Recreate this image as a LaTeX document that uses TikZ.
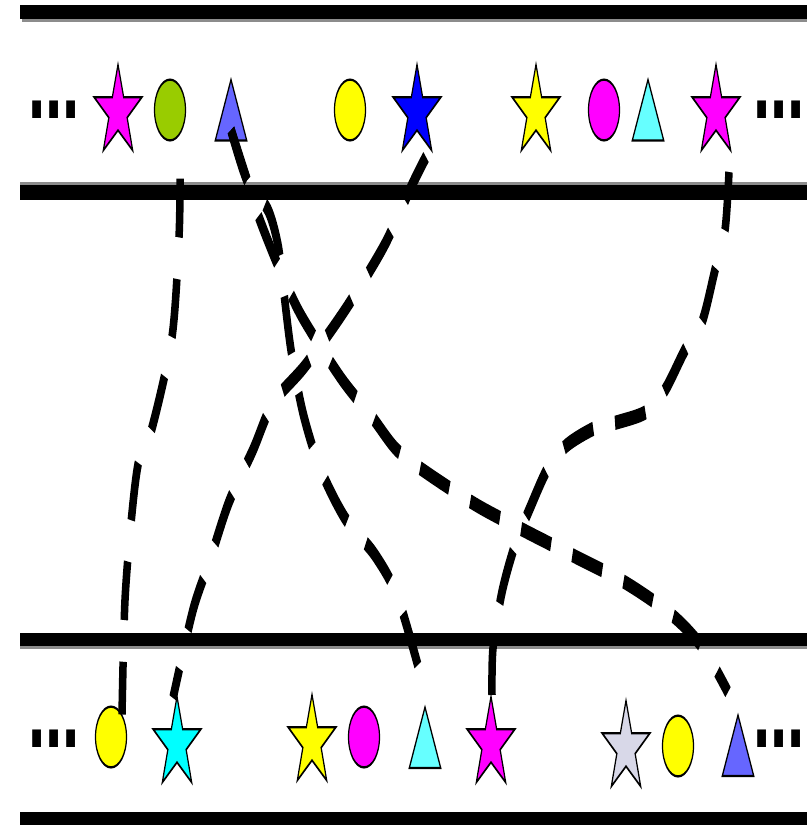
\documentclass[tikz,border=0pt]{standalone}
\usepackage{fontspec}
\newfontfamily\dotfont{Liberation Sans}
\usetikzlibrary{shapes.geometric,calc}
\definecolor{cMag}{HTML}{FF00FF}
\definecolor{cLime}{HTML}{99CC00}
\definecolor{cPeri}{HTML}{6666FF}
\definecolor{cYel}{HTML}{FFFF00}
\definecolor{cBlue}{HTML}{0000FF}
\definecolor{cAqua}{HTML}{66FFFF}
\definecolor{cCyan}{HTML}{00FFFF}
\definecolor{cLav}{HTML}{D8D8E8}
\begin{document}
\begin{tikzpicture}[x=1pt,y=-1pt,
  bar/.style={line width=7pt},
  shadowbar/.style={draw=black!45, line width=1.8pt},
  conn/.style={line width=7.5pt, dash pattern=on 31pt off 22pt},
  starnode/.style={star, star points=5, star point ratio=2.6, minimum size=50pt, inner sep=0pt, draw=black, line width=1.2pt},
  ovalnode/.style={ellipse, minimum width=31pt, minimum height=32pt, inner sep=0pt, draw=black, line width=1.2pt},
  tribox/.style={rectangle, minimum width=31pt, minimum height=31.6pt, inner sep=0pt},
  trishape/.style={draw=black, line width=1.2pt},
  dotsnode/.style={font=\dotfont\bfseries\fontsize{62}{62}\selectfont, inner sep=0pt, anchor=base west}
]
\path[use as bounding box, fill=white] (0,0) rectangle (807,825);
\begin{scope}[transform canvas={yscale=1.9}, y=-0.5263158pt]
  % horizontal bars
  \draw[shadowbar] (22,20) -- (807,20);
  \draw[shadowbar] (20,183.5) -- (807,183.5);
  \draw[shadowbar] (20,647.5) -- (807,647.5);
  \draw[bar] (20,12) -- (807,12);
  \draw[bar, line width=7.8pt] (20,192.5) -- (807,192.5);
  \draw[bar] (20,639.5) -- (807,639.5);
  \draw[bar] (20,819) -- (807,819);

  % top row
  \node[dotsnode] (dTL) at (28,118) {...};
  \node[starnode, fill=cMag] (sM1) at (118,112) {};
  \node[ovalnode, fill=cLime] (oG1) at (170,110) {};
  \node[tribox] (tB1) at (231,110) {};
  \filldraw[trishape, fill=cPeri] (tB1.south west) -- (tB1.south east) -- (tB1.north) -- cycle;
  \node[ovalnode, fill=cYel] (oY1) at (350,110) {};
  \node[starnode, fill=cBlue] (sB1) at (417,112) {};
  \node[starnode, fill=cYel] (sY1) at (536,112) {};
  \node[ovalnode, fill=cMag] (oM1) at (604,110) {};
  \node[tribox] (tC1) at (648,110) {};
  \filldraw[trishape, fill=cAqua] (tC1.south west) -- (tC1.south east) -- (tC1.north) -- cycle;
  \node[starnode, fill=cMag] (sM2) at (716,112) {};
  \node[dotsnode] (dTR) at (753,118) {...};

  % bottom row
  \node[dotsnode] (dBL) at (28,747) {...};
  \node[ovalnode, fill=cYel] (oY2) at (111,737) {};
  \node[starnode, fill=cCyan] (sC2) at (177,744) {};
  \node[starnode, fill=cYel] (sY2) at (312,742) {};
  \node[ovalnode, fill=cMag] (oM2) at (364,737) {};
  \node[tribox] (tC2) at (425,737.5) {};
  \filldraw[trishape, fill=cAqua] (tC2.south west) -- (tC2.south east) -- (tC2.north) -- cycle;
  \node[starnode, fill=cMag] (sM3) at (491,744) {};
  \node[starnode, fill=cLav] (sL2) at (626,748) {};
  \node[ovalnode, fill=cYel] (oY3) at (678,746) {};
  \node[tribox] (tB2) at (738,745.5) {};
  \filldraw[trishape, fill=cPeri] (tB2.south west) -- (tB2.south east) -- (tB2.north) -- cycle;
  \node[dotsnode] (dBR) at (753,747) {...};

  % connector end points
  \coordinate (a0) at ($(oG1.south)+(10,37)$);
  \coordinate (a1) at ($(oY2.north)+(11,9)$);
  \coordinate (b0) at ($(tB1.center)+(0,20)$);
  \coordinate (b1) at ($(tC2.north)+(-2,-23)$);
  \coordinate (e1) at ($(tB2.north)+(-10,-23)$);
  \coordinate (c0) at ($(sB1.center)+(9,45)$);
  \coordinate (c1) at ($(sC2.center)+(-4,-46)$);
  \coordinate (d0) at ($(sM2.center)+(13,60)$);
  \coordinate (d1) at ($(sM3.center)+(1,-49)$);

  % connectors
  \draw[conn] plot[smooth] coordinates {(a0) (179,237) (172,337) (152,428) (139,460) (132,513) (125,600) (a1)};
  \draw[conn] plot[smooth] coordinates {(b0) (247,180) (268,210) (278,245) (283,285) (291,350) (303,413) (320,468) (345,518) (375,555) (398,598) (b1)};
  \draw[conn] plot[smooth] coordinates {(b0) (247,180) (258,215) (277,263) (301,315) (341,378) (372,417) (397,450) (430,475) (478,506) (527,532) (576,557) (626,583) (672,615) (703,648) (e1)};
  \draw[conn] plot[smooth] coordinates {(c0) (412,185) (384,246) (345,310) (305,366) (273,403) (253,450) (229,502) (210,560) (193,610) (c1)};
  \draw[conn] plot[smooth] coordinates {(d0) (725,230) (715,270) (702,322) (685,350) (665,390) (646,412) (618,422) (595,428) (567,445) (548,468) (530,508) (515,545) (502,592) (493,648) (d1)};
\end{scope}
\end{tikzpicture}
\end{document}
